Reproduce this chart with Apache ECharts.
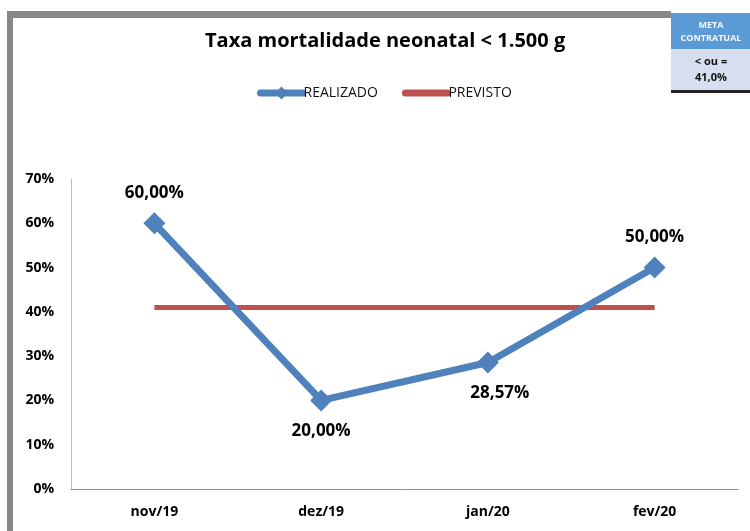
<!DOCTYPE html>
<html>
<head>
<meta charset="utf-8">
<script src="https://cdn.jsdelivr.net/npm/echarts@6/dist/echarts.min.js"></script>
<style>
    html, body { margin: 0; padding: 0; background: #fff; }
    #main { width: 750px; height: 531px; }
</style>
</head>
<body>
<div id="main"></div>
<script>
// dados do gráfico
var categorias = ['nov/19', 'dez/19', 'jan/20', 'fev/20'];
var realizado = [60.00, 20.00, 28.57, 50.00];
var previsto = [41, 41, 41, 41];
var posLabel = ['top', 'bottom', 'bottom', 'top'];   // onde fica o rótulo de cada ponto
var yTicks = [0, 10, 20, 30, 40, 50, 60, 70];

var fonte = '"Open Sans", Lato, sans-serif';

function pct(v) {
    return v.toFixed(2).replace('.', ',') + '%';
}

var myChart = echarts.init(document.getElementById('main'));

var option = {
    backgroundColor: '#fff',
    animation: false,
    textStyle: { fontFamily: fonte },
    title: {
        text: 'Taxa mortalidade neonatal < 1.500 g',
        left: 200,
        top: 26,
        textStyle: { fontFamily: fonte, fontSize: 20, fontWeight: 'bold', color: '#000' }
    },
    legend: {
        top: 81,
        left: 252,
        itemWidth: 42,
        itemHeight: 16,
        itemGap: 24,
        lineStyle: { width: 7, cap: 'round' },
        textStyle: { fontFamily: fonte, fontSize: 14, color: '#111', padding: [0, 0, 0, -4] },
        data: [
            { name: 'REALIZADO' },
            { name: 'PREVISTO', itemStyle: { opacity: 0 } }
        ]
    },
    grid: { left: 71, top: 179, right: 12, bottom: 42, containLabel: false },
    xAxis: {
        type: 'category',
        data: categorias,
        boundaryGap: true,
        axisLine: { lineStyle: { color: '#8c8c8c', width: 1 } },
        axisTick: { show: false },
        axisLabel: { margin: 16, fontFamily: fonte, fontSize: 14, fontWeight: 'bold', color: '#000' }
    },
    yAxis: {
        type: 'value',
        min: yTicks[0],
        max: yTicks[yTicks.length - 1],
        interval: 10,
        axisLine: { show: true, lineStyle: { color: '#bbb', width: 1 } },
        axisTick: { show: false },
        splitLine: { show: false },
        axisLabel: {
            margin: 17,
            fontFamily: fonte, fontSize: 14, fontWeight: 'bold', color: '#000',
            formatter: function (v) { return v + '%'; }
        }
    },
    series: [
        {
            name: 'PREVISTO',
            type: 'line',
            data: previsto,
            symbol: 'none',
            lineStyle: { color: '#C0504D', width: 5 },
            itemStyle: { color: '#C0504D' },
            z: 2
        },
        {
            name: 'REALIZADO',
            type: 'line',
            data: realizado.map(function (v, i) {
                return {
                    value: v,
                    label: {
                        position: posLabel[i],
                        offset: i === 2 ? [12, 0] : [0, 0]
                    }
                };
            }),
            symbol: 'diamond',
            symbolSize: 22,
            lineStyle: { color: '#4F81BD', width: 7 },
            itemStyle: { color: '#4F81BD' },
            label: {
                show: true,
                distance: 11,
                fontFamily: fonte,
                fontSize: 17,
                fontWeight: 'bold',
                color: '#000',
                formatter: function (p) { return pct(p.value); }
            },
            z: 3
        }
    ],
    graphic: [
        // moldura cinza
        { type: 'rect', shape: { x: 7, y: 11, width: 664, height: 7 }, style: { fill: '#888' } },
        { type: 'rect', shape: { x: 7, y: 11, width: 6, height: 520 }, style: { fill: '#888' } },
        // caixa da meta contratual
        { type: 'rect', shape: { x: 671, y: 13, width: 79, height: 36 }, style: { fill: '#5B9BD5' } },
        { type: 'rect', shape: { x: 671, y: 49, width: 79, height: 41 }, style: { fill: '#D6DEEF' } },
        { type: 'rect', shape: { x: 671, y: 90, width: 79, height: 3 }, style: { fill: '#222' } },
        {
            type: 'text', x: 711, y: 19,
            style: { text: 'META\nCONTRATUAL', fill: '#f4f8ff', font: 'bold 9px ' + fonte, align: 'center', lineHeight: 13 }
        },
        {
            type: 'text', x: 711, y: 54,
            style: { text: '< ou =\n41,0%', fill: '#111', font: 'bold 11px ' + fonte, align: 'center', lineHeight: 16 }
        }
    ]
};

myChart.setOption(option);
</script>
</body>
</html>
